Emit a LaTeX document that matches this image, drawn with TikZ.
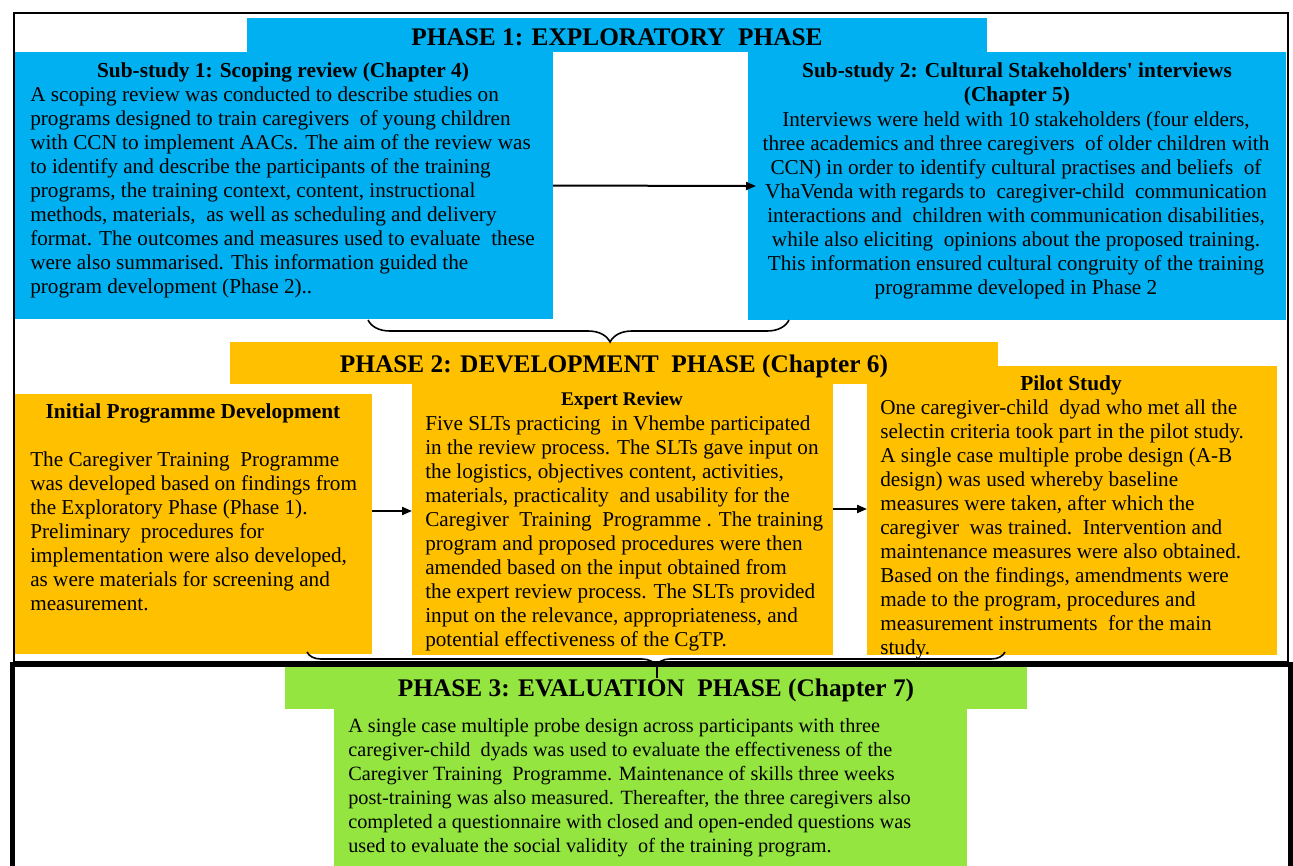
\documentclass[tikz,border=0pt]{standalone}
\usepackage{fontspec}
\setmainfont{Liberation Serif}
\usetikzlibrary{fit,arrows.meta,decorations.pathreplacing,positioning}
\definecolor{phcyan}{RGB}{0,176,240}
\definecolor{phorange}{RGB}{255,192,0}
\definecolor{phgreen}{RGB}{149,229,64}
\tikzset{
  phbox/.style={inner sep=0pt, outer sep=0pt, draw=none},
  cyanbox/.style={phbox, fill=phcyan},
  orangebox/.style={phbox, fill=phorange},
  greenbox/.style={phbox, fill=phgreen},
  phasetitle/.style={font=\fontsize{19}{22}\selectfont\bfseries, inner sep=0pt},
  subtitle/.style={font=\fontsize{16}{18}\selectfont\bfseries, align=center, inner sep=0pt},
  bodytext/.style={font=\fontsize{15.9}{18}\selectfont, align=left, anchor=north west, inner sep=0pt},
  arr/.style={line width=1.5pt, -{Triangle[length=7.5pt,width=6pt]}},
  bracket/.style={line width=1.2pt, decorate, decoration={brace, mirror, amplitude=#1}},
}
\begin{document}
\begin{tikzpicture}[x=0.75pt,y=-0.75pt]
\useasboundingbox (0,0) rectangle (1293,865);

% phase 1
\node[cyanbox, fit={(247,18) (987,52)}] (ph1) {};
\node[phasetitle] (ph1t) at ([yshift=-1.5pt]ph1.center) {PHASE 1: EXPLORATORY\ \ PHASE};
\node[cyanbox, fit={(14,52) (553,319)}] (sub1) {};
\node[cyanbox, fit={(748,52) (1286,320)}] (sub2) {};
\node[subtitle] (sub1t) at (283,72) {Sub-study 1: Scoping review (Chapter 4)};
\node[bodytext] (sub1b) at (30,87) {A scoping review was conducted to describe studies on\\
programs designed to train caregivers\ \ of young children\\
with CCN to implement AACs. The aim of the review was\\
to identify and describe the participants of the training\\
programs, the training context, content, instructional\\
methods, materials,\ \ as well as scheduling and delivery\\
format. The outcomes and measures used to evaluate\ \ these\\
were also summarised. This information guided the\\
program development (Phase 2)..};
\node[subtitle] (sub2t) at (1017,84) {Sub-study 2: Cultural Stakeholders\textquotesingle\ interviews\\(Chapter 5)};
\node[bodytext, align=center, anchor=north] (sub2b) at (1016,111) {Interviews were held with 10 stakeholders (four elders,\\
three academics and three caregivers\ \ of older children with\\
CCN) in order to identify cultural practises and beliefs\ \ of\\
VhaVenda with regards to\ \ caregiver-child\ \ communication\\
interactions and\ \ children with communication disabilities,\\
while also eliciting\ \ opinions about the proposed training.\\
This information ensured cultural congruity of the training\\
programme developed in Phase 2};
\draw[arr, shorten >=-6pt] (sub1.east) -- (sub2.west);

% phase 2
\node[orangebox, fit={(230,342) (998,384)}] (ph2) {};
\node[orangebox, fit={(14,394) (372,654)}] (init) {};
\node[orangebox, fit={(412,384) (833,655)}] (expert) {};
\node[orangebox, fit={(867,366) (1277,655)}] (pilot) {};
\node[phasetitle] (ph2t) at ([yshift=-2.5pt]ph2.center) {PHASE 2: DEVELOPMENT\ \ PHASE (Chapter 6)};
\node[subtitle] (initt) at (193,413) {Initial Programme Development};
\node[bodytext] (initb) at (30,452) {The Caregiver Training\ \ Programme\\
was developed based on findings from\\
the Exploratory Phase (Phase 1).\\
Preliminary\ \ procedures for\\
implementation were also developed,\\
as were materials for screening and\\
measurement.};
\node[subtitle, font=\fontsize{14.5}{16}\selectfont\bfseries] (expertt) at (622,401) {Expert Review};
\node[bodytext] (expertb) at (425,416) {Five SLTs practicing\ \ in Vhembe participated\\
in the review process. The SLTs gave input on\\
the logistics, objectives content, activities,\\
materials, practicality\ \ and usability for the\\
Caregiver\ \ Training\ \ Programme . The training\\
program and proposed procedures were then\\
amended based on the input obtained from\\
the expert review process. The SLTs provided\\
input on the relevance, appropriateness, and\\
potential effectiveness of the CgTP.};
\node[subtitle] (pilott) at (1071,385) {Pilot Study};
\node[bodytext] (pilotb) at (880,400) {One caregiver-child\ \ dyad who met all the\\
selectin criteria took part in the pilot study.\\
A single case multiple probe design (A-B\\
design) was used whereby baseline\\
measures were taken, after which the\\
caregiver\ \ was trained.\ \ Intervention and\\
maintenance measures were also obtained.\\
Based on the findings, amendments were\\
made to the program, procedures and\\
measurement instruments\ \ for the main\\
study.};
\draw[arr] (init.east |- 0,511) -- (expert.west |- 0,511);
\draw[arr] (expert.east |- 0,509) -- (pilot.west |- 0,509);

% phase 3
\node[greenbox, fit={(285,667) (1027,709)}] (ph3) {};
\node[phasetitle] (ph3t) at ([yshift=-2pt]ph3.center) {PHASE 3: EVALUATION\ \ PHASE (Chapter 7)};
\node[greenbox, fit={(334,708) (967,866)}] (eval) {};
\node[bodytext, font=\fontsize{15.2}{18}\selectfont] (evalb) at (348,718) {A single case multiple probe design across participants with three\\
caregiver-child\ \ dyads was used to evaluate the effectiveness of the\\
Caregiver Training\ \ Programme. Maintenance of skills three weeks\\
post-training was also measured. Thereafter, the three caregivers also\\
completed a questionnaire with closed and open-ended questions was\\
used to evaluate the social validity\ \ of the training program.};

% braces
\coordinate (br1a) at (368,320);
\coordinate (br1b) at (789,320);
\draw[bracket=16.5pt, decoration={aspect=0.575}] (br1a) -- (br1b);
\coordinate (br2a) at (307,652);
\coordinate (br2b) at (1005,652);
\draw[bracket=10.5pt] (br2a) -- (br2b);
\draw[line width=1.2pt] (657,666) -- (657,678);

% frames
\draw[line width=1.1pt] (14,13) rectangle (1288,662);
\draw[line width=3.75pt] (12,880) -- (12,664.5) -- (1290,664.5) -- (1290,880);
\end{tikzpicture}
\end{document}
